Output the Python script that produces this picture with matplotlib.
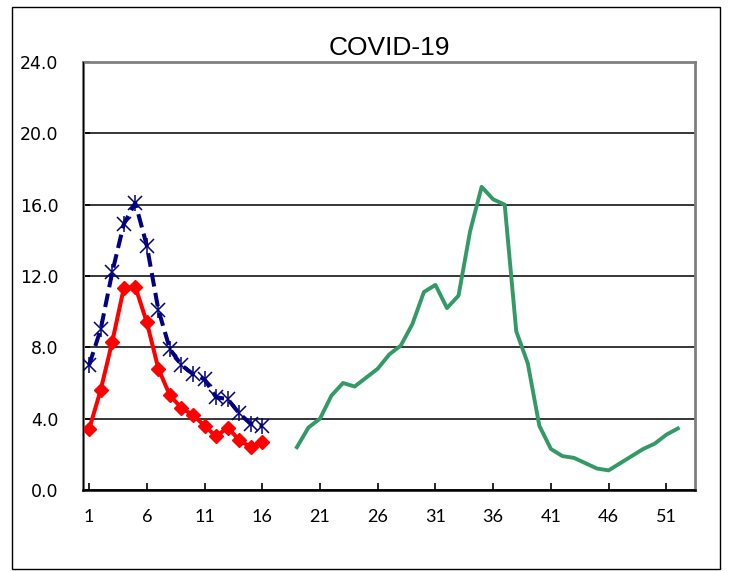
import matplotlib
matplotlib.use("Agg")
import matplotlib.pyplot as plt
from matplotlib.ticker import FormatStrFormatter
from matplotlib.patches import Rectangle

# ---- data ----
title = "COVID-19"
weeks_a = list(range(1, 17))
navy_vals = [7.0, 9.0, 12.2, 14.9, 16.1, 13.7, 10.1, 7.9, 7.0, 6.5, 6.2, 5.2, 5.1, 4.3, 3.7, 3.6]
red_vals = [3.4, 5.6, 8.3, 11.3, 11.4, 9.4, 6.8, 5.3, 4.6, 4.2, 3.6, 3.0, 3.5, 2.8, 2.4, 2.7]
weeks_b = list(range(19, 53))
green_vals = [2.4, 3.5, 4.0, 5.3, 6.0, 5.8, 6.3, 6.8, 7.6, 8.1,
              9.3, 11.1, 11.5, 10.2, 10.9, 14.5, 17.0, 16.3, 16.0, 8.9,
              7.1, 3.6, 2.3, 1.9, 1.8, 1.5, 1.2, 1.1, 1.5, 1.9,
              2.3, 2.6, 3.1, 3.45]
x_ticks = [1, 6, 11, 16, 21, 26, 31, 36, 41, 46, 51]
y_ticks = [0, 4, 8, 12, 16, 20, 24]

fig = plt.figure(figsize=(7.31, 5.71), dpi=100)
# outer chart border
fig.patches.append(Rectangle((0.0164, 0.0035), 0.9686, 0.9842, transform=fig.transFigure,
                             fill=False, edgecolor="black", linewidth=1.0))

ax = fig.add_axes([0.114, 0.1419, 0.837, 0.7495])
ax.set_xlim(0.5, 53.5)
ax.set_ylim(0, 24)

ax.set_yticks(y_ticks)
ax.set_xticks(x_ticks)
ax.yaxis.set_major_formatter(FormatStrFormatter("%.1f"))
ax.yaxis.grid(True, color="black", linewidth=1.1, zorder=1)
ax.set_axisbelow(True)

# series
ax.plot(weeks_b, green_vals, color="#339966", linewidth=2.8, zorder=3, solid_joinstyle="round")
ax.plot(weeks_a, red_vals, color="#FF0000", linewidth=2.9, marker="D", markersize=7,
        markeredgecolor="#FF0000", markerfacecolor="#FF0000", zorder=4)
ax.plot(weeks_a, navy_vals, color="#000080", linewidth=2.9, linestyle=(0, (3.4, 1.6)), zorder=4)
ax.plot(weeks_a, navy_vals, linestyle="none", marker="x", markersize=9.5,
        markeredgewidth=1.1, color="#000080", zorder=5)
ax.plot(weeks_a, navy_vals, linestyle="none", marker="|", markersize=11,
        markeredgewidth=1.1, color="#000080", zorder=5)

# spines
for s in ("top", "right"):
    ax.spines[s].set_color("#808080")
    ax.spines[s].set_linewidth(2.0)
ax.spines["left"].set_color("#808080")
ax.spines["left"].set_linewidth(2.2)
ax.spines["bottom"].set_color("black")
ax.spines["bottom"].set_linewidth(1.8)
ax.axvline(ax.get_xlim()[0], color="black", linewidth=0.9, zorder=6)

ax.tick_params(axis="x", direction="in", length=5, width=1.2, color="black", pad=14,
               labelsize=13)
ax.tick_params(axis="y", direction="in", length=5, width=1.2, color="black", pad=18,
               labelsize=12.5)
for lbl in ax.get_xticklabels():
    lbl.set_fontfamily("Lato")
for lbl in ax.get_yticklabels():
    lbl.set_fontfamily("DejaVu Sans")

ax.set_title(title, fontsize=19, fontfamily="Liberation Sans", pad=5)

fig.savefig("out.png", dpi=100)
